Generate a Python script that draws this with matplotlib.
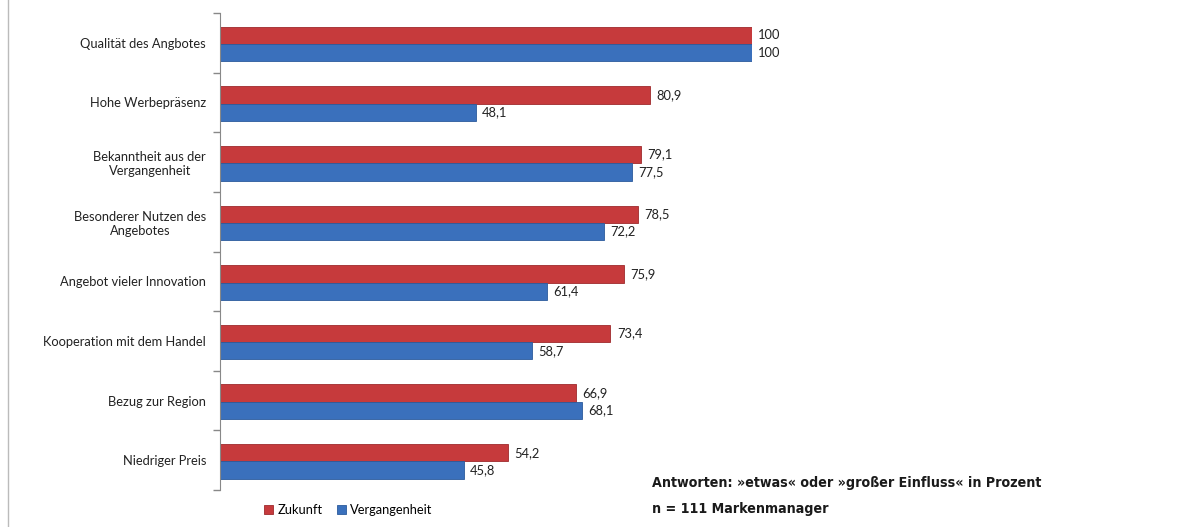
import matplotlib.pyplot as plt
from matplotlib.lines import Line2D
import numpy as np

categories = ['Qualität des Angbotes', 'Hohe Werbepräsenz', 'Bekanntheit aus der\nVergangenheit',
              'Besonderer Nutzen des\nAngebotes', 'Angebot vieler Innovation',
              'Kooperation mit dem Handel', 'Bezug zur Region', 'Niedriger Preis']
zukunft = [100, 80.9, 79.1, 78.5, 75.9, 73.4, 66.9, 54.2]
vergangenheit = [100, 48.1, 77.5, 72.2, 61.4, 58.7, 68.1, 45.8]

red = '#C63A3C'
blue = '#3A70BC'

plt.rcParams['font.family'] = ['Lato', 'DejaVu Sans']

fig = plt.figure(figsize=(11.97, 5.27), dpi=100)
ax = fig.add_axes([220 / 1197, 37 / 527, 532 / 1197, 477 / 527])

y = np.arange(len(categories))
h = 0.29
br = ax.barh(y - h / 2 + 0.02, zukunft, h, color=red, edgecolor='#9E2A2C', linewidth=0.6, label='Zukunft')
bb = ax.barh(y + h / 2 + 0.02, vergangenheit, h, color=blue, edgecolor='#2B5A9C', linewidth=0.6, label='Vergangenheit')

def fmt(v):
    return str(int(v)) if v == int(v) else f'{v:.1f}'.replace('.', ',')

for bars, vals in ((br, zukunft), (bb, vergangenheit)):
    for rect, v in zip(bars, vals):
        ax.text(rect.get_width() + 1.2, rect.get_y() + rect.get_height() / 2, fmt(v),
                va='center', ha='left', fontsize=9.3, color='#222222', clip_on=False)

ax.set_xlim(0, 100)
ax.set_ylim(len(categories) - 0.5, -0.5)
ax.set_yticks(y)
ax.set_yticklabels(categories, fontsize=9.3, color='#222222', ha='right', multialignment='center')
ax.tick_params(axis='y', which='major', length=0, pad=10)
ax.set_yticks(np.arange(-0.5, len(categories)), minor=True)
ax.tick_params(axis='y', which='minor', length=5, color='#888888', width=1)
ax.set_xticks([])
for s in ['top', 'right', 'bottom']:
    ax.spines[s].set_visible(False)
ax.spines['left'].set_color('#888888')

fig.legend(handles=[br, bb], labels=['Zukunft', 'Vergangenheit'], loc='center left',
           bbox_to_anchor=(252 / 1197, 1 - 510 / 527), ncol=2, frameon=False, fontsize=9.3,
           handlelength=0.75, handleheight=0.75, handletextpad=0.3, columnspacing=1.1)

note_font = ['DejaVu Sans']
fig.text(652 / 1197, 1 - 483 / 527, 'Antworten: »etwas« oder »großer Einfluss« in Prozent',
         fontsize=10.2, fontweight='bold', fontstretch='condensed', family=note_font,
         va='center', ha='left', color='#1a1a1a')
fig.text(652 / 1197, 1 - 509 / 527, 'n = 111 Markenmanager',
         fontsize=10.2, fontweight='bold', fontstretch='condensed', family=note_font,
         va='center', ha='left', color='#1a1a1a')

fig.add_artist(Line2D([8 / 1197, 8 / 1197], [0, 1], color='#BBBBBB', linewidth=1))

plt.savefig('out.png', dpi=100)
